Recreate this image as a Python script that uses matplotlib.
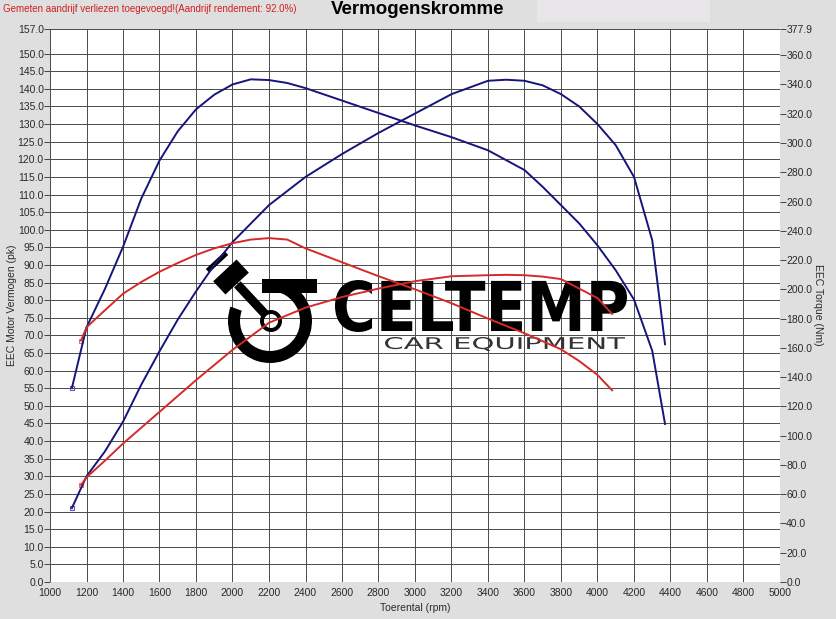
import numpy as np
import matplotlib
matplotlib.use("Agg")
import matplotlib.pyplot as plt
from matplotlib.textpath import TextPath
from matplotlib.font_manager import FontProperties
from matplotlib.patches import PathPatch, Wedge, Polygon, Rectangle
from matplotlib.transforms import Affine2D

plt.rcParams['font.family'] = ['Liberation Sans', 'DejaVu Sans']

# --- data ---
tuned_power_rpm = [1120, 1200, 1300, 1400, 1500, 1600, 1700, 1800, 1900, 2000, 2200, 2400,
                   2600, 2800, 3000, 3200, 3400, 3500, 3600, 3700, 3800, 3900, 4000, 4100,
                   4200, 4300, 4370]
tuned_power_pk = [21.0, 30.0, 37.0, 45.5, 56.0, 65.5, 74.5, 82.5, 90.0, 96.5, 107.0, 115.0,
                  121.5, 127.5, 133.0, 138.5, 142.3, 142.6, 142.3, 141.0, 138.5, 135.0, 130.0,
                  124.0, 115.0, 97.0, 67.5]

tuned_torque_rpm = [1120, 1200, 1300, 1400, 1500, 1600, 1700, 1800, 1900, 2000, 2100, 2200,
                    2300, 2400, 2600, 2800, 3000, 3200, 3400, 3600, 3700, 3800, 3900, 4000,
                    4100, 4200, 4300, 4370]
tuned_torque_nm = [132.6, 174.0, 200.0, 229.0, 262.0, 288.0, 308.0, 323.0, 333.0, 340.0, 343.5,
                   343.0, 341.0, 337.5, 329.0, 320.5, 312.0, 304.0, 295.0, 281.5, 270.0, 257.5,
                   245.0, 230.0, 213.0, 193.0, 158.0, 108.0]

stock_power_rpm = [1170, 1200, 1300, 1400, 1600, 1800, 2000, 2200, 2400, 2600, 2800, 3000,
                   3200, 3400, 3500, 3600, 3700, 3800, 4000, 4080]
stock_power_pk = [27.5, 29.7, 34.4, 39.3, 48.3, 57.3, 65.9, 73.6, 77.9, 80.9, 83.3, 85.4,
                  86.8, 87.1, 87.2, 87.1, 86.7, 86.0, 80.6, 76.1]

stock_torque_rpm = [1170, 1200, 1260, 1400, 1500, 1600, 1700, 1800, 1900, 2000, 2100, 2200,
                    2300, 2400, 2600, 2800, 3000, 3200, 3400, 3600, 3800, 3900, 4000, 4080]
stock_torque_nm = [165.0, 174.0, 181.0, 197.0, 205.0, 212.0, 218.0, 223.5, 228.0, 231.5, 234.0,
                   235.0, 234.0, 228.0, 218.5, 209.0, 200.0, 190.5, 180.0, 170.0, 159.0, 151.0,
                   141.5, 131.0]

x_ticks = list(range(1000, 5001, 200))
left_ticks = [i * 5.0 for i in range(31)] + [157.0]
right_ticks = [i * 20.0 for i in range(19)] + [377.9]

W, H = 837, 619
BLUE = '#15157a'
RED = '#d42a2a'
TXT = '#2a2a2a'

fig = plt.figure(figsize=(W / 100, H / 100), dpi=100, facecolor='#dfdfdf')
ax = fig.add_axes([50 / W, 37 / H, 730 / W, 553 / H])
ax2 = ax.twinx()

# pixel coords (origin top-left of the image) -> figure
pix = Affine2D().scale(1 / W, -1 / H).translate(0, 1) + fig.transFigure

fig.patches.append(Rectangle((537, 0), 173, 22, transform=pix, facecolor='#e8e6e8',
                             edgecolor='none', zorder=0))

ax.set_facecolor('white')
ax.set_xlim(1000, 5000)
ax.set_ylim(0, 157)
ax2.set_ylim(0, 377.9)

ax.set_xticks(x_ticks)
ax.set_xticklabels([str(t) for t in x_ticks])
ax.set_yticks(left_ticks)
ax.set_yticklabels(['%.1f' % t for t in left_ticks])
ax2.set_yticks(right_ticks)
ax2.set_yticklabels(['%.1f' % t for t in right_ticks])

ax.set_axisbelow(True)
ax.grid(True, color='#4a4a4a', linewidth=0.7)
for a in (ax, ax2):
    for s in a.spines.values():
        s.set_visible(False)
ax.tick_params(axis='x', length=0, pad=4, labelsize=7.5, labelcolor=TXT)
ax.tick_params(axis='y', length=4, width=0.7, color='#444', pad=0.5, labelsize=7.5,
               labelcolor=TXT)
ax2.tick_params(axis='y', length=4, width=0.7, color='#444', pad=0.5, labelsize=7.5,
                labelcolor=TXT)

# --- watermark logo ---
def fit_text(s, left, top, right, bottom, color, weight='normal'):
    path = TextPath((0, 0), s, prop=FontProperties(family='DejaVu Sans', weight=weight))
    ext = path.get_extents()
    tr = Affine2D().translate(-ext.x0, -ext.y1).scale((right - left) / ext.width,
                                                       -(bottom - top) / ext.height)
    tr = tr.translate(left, top)
    ax.add_patch(PathPatch(tr.transform_path(path), facecolor=color, edgecolor='none',
                           transform=pix, zorder=1))


def bar(cx, cy, length, thick, ang):
    # rotated rectangle centred on (cx, cy), pixel coords, ang in degrees (y down)
    a = np.deg2rad(ang)
    u = np.array([np.cos(a), np.sin(a)]) * length / 2
    v = np.array([-np.sin(a), np.cos(a)]) * thick / 2
    c = np.array([cx, cy])
    pts = [c - u - v, c + u - v, c + u + v, c - u + v]
    ax.add_patch(Polygon(pts, closed=True, facecolor='black', edgecolor='none',
                         transform=pix, zorder=1))


fit_text('CELTEMP', 335, 280, 627, 332, 'black', weight='bold')
fit_text('CAR EQUIPMENT', 385, 337, 625, 351, '#333333')

# angles are in pixel space (y down), so the gap at the upper left is 200..265
ax.add_patch(Wedge((270, 321), 42, 265, 560, width=12, facecolor='black',
                   edgecolor='none', transform=pix, zorder=1))
ax.add_patch(Rectangle((262, 279), 55, 14, facecolor='black', edgecolor='none',
                       transform=pix, zorder=1))
ax.add_patch(Wedge((271, 321), 11, 0, 360, width=4, facecolor='black',
                   edgecolor='none', transform=pix, zorder=1))
bar(251, 299, 40, 9, 47)
bar(231, 277, 32, 18, -43)
bar(217, 262, 26, 5, -43)

# --- curves ---
ax.plot(tuned_power_rpm, tuned_power_pk, color=BLUE, lw=1.4, zorder=3)
ax.plot(stock_power_rpm, stock_power_pk, color=RED, lw=1.4, zorder=3)
ax2.plot(tuned_torque_rpm, tuned_torque_nm, color=BLUE, lw=1.4, zorder=3)
ax2.plot(stock_torque_rpm, stock_torque_nm, color=RED, lw=1.4, zorder=3)

ax.plot(tuned_power_rpm[0], tuned_power_pk[0], 's', ms=3, mfc='none', mec='#5a5ab0', mew=0.8)
ax.plot(stock_power_rpm[0], stock_power_pk[0], 's', ms=3, mfc='none', mec='#e07070', mew=0.8)
ax2.plot(tuned_torque_rpm[0], tuned_torque_nm[0], 's', ms=3, mfc='none', mec='#5a5ab0', mew=0.8)
ax2.plot(stock_torque_rpm[0], stock_torque_nm[0], 's', ms=3, mfc='none', mec='#e07070', mew=0.8)

# --- texts ---
fig.text(3 / W, 1 - 9 / H, 'Gemeten aandrijf verliezen toegevoegd!(Aandrijf rendement: 92.0%)',
         color='#d02020', fontsize=7, va='center', ha='left')
fig.text(418 / W, 1 - 10 / H, 'Vermogenskromme', fontsize=13.5, fontweight='bold',
         ha='center', va='center', color='black')
fig.text(12 / W, 1 - 305 / H, 'EEC Motor Vermogen (pk)', rotation=90, fontsize=7.5,
         ha='center', va='center', color=TXT)
fig.text(818 / W, 1 - 305 / H, 'EEC Torque (Nm)', rotation=-90, fontsize=7.5,
         ha='center', va='center', color=TXT)
fig.text(415 / W, 1 - 608 / H, 'Toerental (rpm)', fontsize=7.5, ha='center', va='center',
         color=TXT)

fig.savefig('out.png', dpi=100, facecolor=fig.get_facecolor())
